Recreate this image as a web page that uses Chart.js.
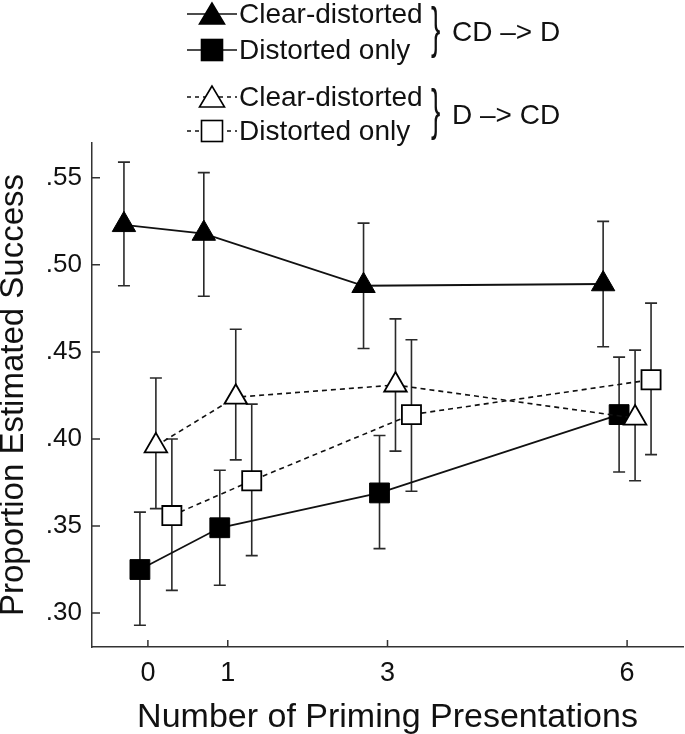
<!DOCTYPE html>
<html>
<head>
<meta charset="utf-8">
<script src="https://cdn.jsdelivr.net/npm/chart.js@4.4.0/dist/chart.umd.min.js"></script>
<style>
  body { margin: 0; background: #fff; }
  #wrap { position: relative; width: 685px; height: 734px; font-family: "Liberation Sans", Arial, sans-serif; color: #111; }
  #wrap canvas { position: absolute; left: 0; top: 0; }
  .txt { position: absolute; font-size: 28px; line-height: 28px; white-space: nowrap; }
  .brace { position: absolute; font-size: 56px; line-height: 56px; transform: scaleX(0.5); transform-origin: left top; }
  .mark { position: absolute; }
</style>
</head>
<body>
<div id="wrap">
  <canvas id="chart" width="685" height="734"></canvas>
  <div id="legend"></div>
</div>
<script>
// data
const presentations = [0, 1, 3, 6];
const xTickLabels = ['0', '1', '3', '6'];
const yTicks = [0.30, 0.35, 0.40, 0.45, 0.50, 0.55];
const yTickLabels = ['.30', '.35', '.40', '.45', '.50', '.55'];

// CD -> D
const cdClearMean = [0.523, 0.518, 0.488, 0.489];
const cdClearLow  = [0.488, 0.482, 0.452, 0.453];
const cdClearHigh = [0.559, 0.553, 0.524, 0.525];
const cdDistMean  = [0.325, 0.349, 0.369, 0.414];
const cdDistLow   = [0.293, 0.316, 0.337, 0.381];
const cdDistHigh  = [0.358, 0.382, 0.402, 0.447];

// D -> CD
const dcdClearMean = [0.396, 0.424, 0.431, 0.412];
const dcdClearLow  = [0.360, 0.388, 0.393, 0.376];
const dcdClearHigh = [0.435, 0.463, 0.469, 0.451];
const dcdDistMean  = [0.356, 0.376, 0.414, 0.434];
const dcdDistLow   = [0.313, 0.333, 0.370, 0.391];
const dcdDistHigh  = [0.400, 0.420, 0.457, 0.478];

// horizontal dodge of each group so error bars don't overlap
const dodge = [-0.3, -0.1, 0.1, 0.3];

function points(mean, low, high, k) {
  return presentations.map((p, i) => ({ x: p + dodge[k], y: mean[i], low: low[i], high: high[i] }));
}

const ink = '#111';
const font = { family: '"Liberation Sans", Arial, sans-serif' };

const errorBars = {
  id: 'errorBars',
  beforeDatasetsDraw(chart) {
    const { ctx, scales: { x, y } } = chart;
    ctx.save();
    ctx.strokeStyle = '#2a2a2a';
    ctx.lineWidth = 1.6;
    chart.data.datasets.forEach(ds => {
      ds.data.forEach(p => {
        const px = x.getPixelForValue(p.x);
        const top = y.getPixelForValue(p.high);
        const bot = y.getPixelForValue(p.low);
        ctx.beginPath();
        ctx.moveTo(px, top); ctx.lineTo(px, bot);
        ctx.moveTo(px - 6, top); ctx.lineTo(px + 6, top);
        ctx.moveTo(px - 6, bot); ctx.lineTo(px + 6, bot);
        ctx.stroke();
      });
    });
    ctx.restore();
  }
};

// tick marks point into the plot
const innerTicks = {
  id: 'innerTicks',
  afterDraw(chart) {
    const { ctx, scales: { x, y }, chartArea } = chart;
    ctx.save();
    ctx.strokeStyle = '#333';
    ctx.lineWidth = 1.5;
    ctx.beginPath();
    yTicks.forEach(v => {
      const py = y.getPixelForValue(v);
      ctx.moveTo(chartArea.left, py); ctx.lineTo(chartArea.left + 8, py);
    });
    presentations.forEach(v => {
      const px = x.getPixelForValue(v);
      ctx.moveTo(px, chartArea.bottom); ctx.lineTo(px, chartArea.bottom - 7);
    });
    ctx.stroke();
    ctx.restore();
  }
};

new Chart(document.getElementById('chart'), {
  type: 'line',
  data: {
    datasets: [
      {
        label: 'Clear-distorted (CD -> D)',
        data: points(cdClearMean, cdClearLow, cdClearHigh, 0),
        borderColor: ink, borderWidth: 1.8,
        pointStyle: 'triangle', pointRadius: 13.5,
        pointBackgroundColor: '#000', pointBorderColor: '#000', pointBorderWidth: 1,
        order: 3
      },
      {
        label: 'Distorted only (CD -> D)',
        data: points(cdDistMean, cdDistLow, cdDistHigh, 1),
        borderColor: ink, borderWidth: 1.8,
        pointStyle: 'rect', pointRadius: 14,
        pointBackgroundColor: '#000', pointBorderColor: '#000', pointBorderWidth: 1,
        order: 2
      },
      {
        label: 'Clear-distorted (D -> CD)',
        data: points(dcdClearMean, dcdClearLow, dcdClearHigh, 2),
        borderColor: ink, borderWidth: 1.6, borderDash: [5, 4],
        pointStyle: 'triangle', pointRadius: 13,
        pointBackgroundColor: '#fff', pointBorderColor: '#000', pointBorderWidth: 1.8,
        order: 0
      },
      {
        label: 'Distorted only (D -> CD)',
        data: points(dcdDistMean, dcdDistLow, dcdDistHigh, 3),
        borderColor: ink, borderWidth: 1.6, borderDash: [5, 4],
        pointStyle: 'rect', pointRadius: 13.5,
        pointBackgroundColor: '#fff', pointBorderColor: '#000', pointBorderWidth: 1.8,
        order: 1
      }
    ]
  },
  options: {
    responsive: false,
    animation: false,
    devicePixelRatio: 1,
    layout: { autoPadding: false, padding: { top: 143, right: 2, left: 0, bottom: 0 } },
    plugins: { legend: { display: false }, tooltip: { enabled: false } },
    scales: {
      x: {
        type: 'linear', min: -0.7, max: 6.7,
        grid: { display: false, drawTicks: false },
        border: { display: true, color: '#333', width: 1.5 },
        afterBuildTicks: s => { s.ticks = presentations.map(v => ({ value: v })); },
        afterFit: s => { s.height = 87; },
        ticks: {
          padding: 10, color: ink, font: { ...font, size: 27 },
          callback: (v, i) => xTickLabels[i]
        },
        title: {
          display: true, text: 'Number of Priming Presentations', color: ink,
          font: { ...font, size: 34, lineHeight: 0.8 }, padding: { top: 0, bottom: 3 }
        }
      },
      y: {
        type: 'linear', min: 0.2805, max: 0.570,
        grid: { display: false, drawTicks: false },
        border: { display: true, color: '#333', width: 1.5 },
        afterBuildTicks: s => { s.ticks = yTicks.map(v => ({ value: v })); },
        afterFit: s => { s.width = 92; },
        ticks: {
          padding: 10, color: ink, font: { ...font, size: 26 },
          callback: (v, i) => yTickLabels[i]
        },
        title: {
          display: true, text: 'Proportion Estimated Success', color: ink,
          font: { ...font, size: 33, lineHeight: 0.8 }, padding: { top: 1, bottom: 0 }
        }
      }
    }
  },
  plugins: [errorBars, innerTicks]
});

// legend with braces, built as HTML
const legendRows = [
  { label: 'Clear-distorted', shape: 'tri', filled: true, top: 0 },
  { label: 'Distorted only', shape: 'sq', filled: true, top: 36 },
  { label: 'Clear-distorted', shape: 'tri', filled: false, top: 83 },
  { label: 'Distorted only', shape: 'sq', filled: false, top: 117 }
];
const legendGroups = [
  { label: 'CD –> D', braceTop: -1, top: 18 },
  { label: 'D –> CD', braceTop: 81, top: 101 }
];

const legend = document.getElementById('legend');
legendRows.forEach(r => {
  const cy = r.top + 14;
  const fill = r.filled ? '#000' : '#fff';
  const dash = r.filled ? '' : 'stroke-dasharray="4 4"';
  const shape = r.shape === 'tri'
    ? `<polygon points="27,4 14.5,25 39.5,25" fill="${fill}" stroke="#000" stroke-width="1.6"/>`
    : `<rect x="16.5" y="4.5" width="21" height="21" fill="${fill}" stroke="#000" stroke-width="1.6"/>`;
  legend.insertAdjacentHTML('beforeend',
    `<svg class="mark" style="left:185px;top:${cy - 15}px" width="54" height="30">
       <line x1="2" y1="15" x2="52" y2="15" stroke="#111" stroke-width="1.6" ${dash}/>
       ${shape}
     </svg>
     <div class="txt" style="left:239px;top:${r.top}px">${r.label}</div>`);
});
legendGroups.forEach(g => {
  legend.insertAdjacentHTML('beforeend',
    `<div class="brace" style="left:431px;top:${g.braceTop}px">}</div>
     <div class="txt" style="left:452px;top:${g.top}px">${g.label}</div>`);
});
</script>
</body>
</html>
